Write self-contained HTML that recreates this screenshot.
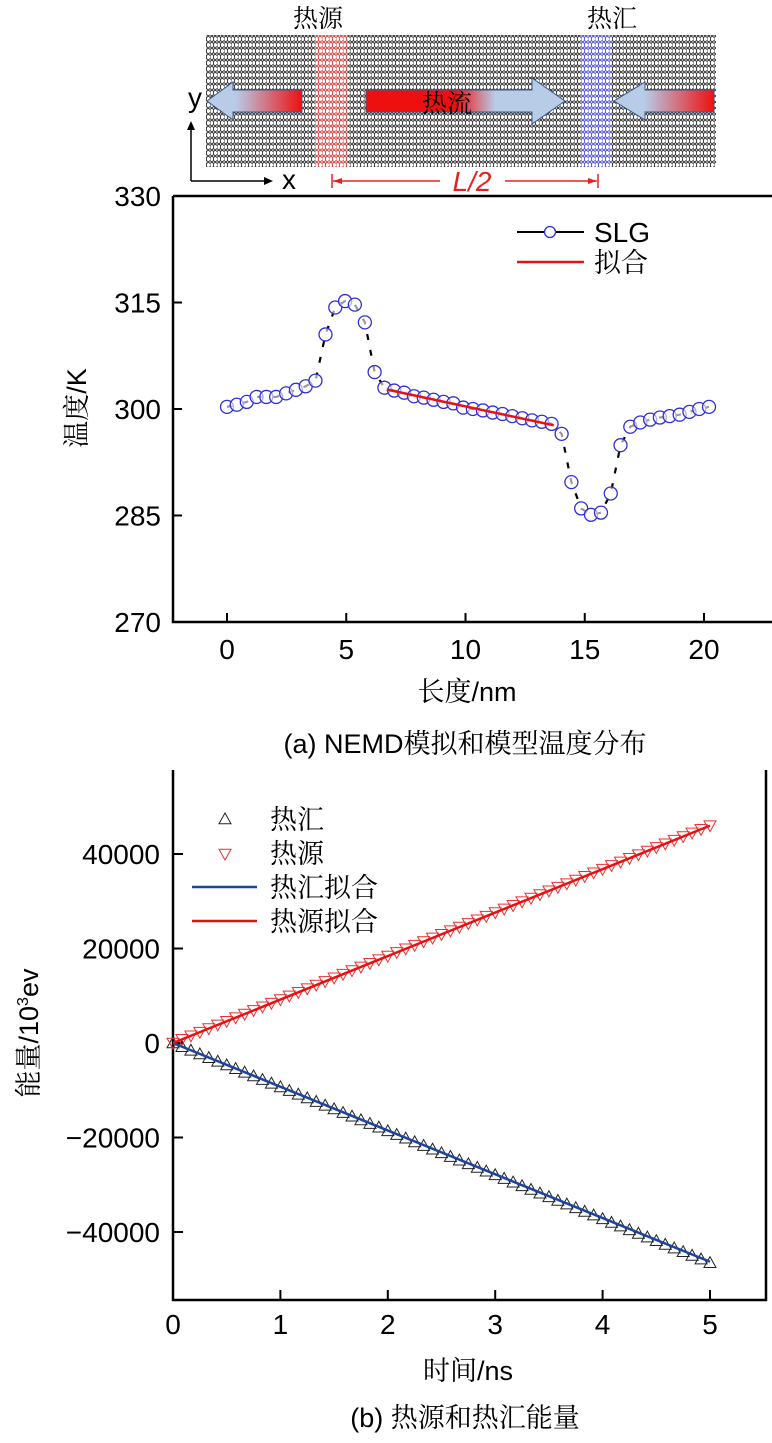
<!DOCTYPE html>
<html><head><meta charset="utf-8">
<style>
html,body{margin:0;padding:0;background:#fff;}
body{width:772px;height:1438px;overflow:hidden;position:relative;font-family:"Liberation Sans","Noto Sans CJK SC",sans-serif;}
svg text{font-family:"Liberation Sans","Noto Sans CJK SC",sans-serif;}
.cjk{font-family:"Noto Serif CJK SC","Liberation Serif",serif;}
</style></head>
<body>
<svg id="fig" width="772" height="1438" viewBox="0 0 772 1438" xmlns="http://www.w3.org/2000/svg">
<defs>
<pattern id="hex" width="7" height="6" patternUnits="userSpaceOnUse">
<path d="M0 1.5 L1.75 0 L3.5 1.5 L3.5 4.5 L1.75 6 M3.5 1.5 L5.25 0 L7 1.5 M3.5 4.5 L5.25 6 L7 4.5 M0 1.5 L0 4.5 L1.75 6" fill="none" stroke="#333" stroke-width="0.9"/>
</pattern>
<pattern id="hexr" width="7" height="6" patternUnits="userSpaceOnUse">
<path d="M0 1.5 L1.75 0 L3.5 1.5 L3.5 4.5 L1.75 6 M3.5 1.5 L5.25 0 L7 1.5 M3.5 4.5 L5.25 6 L7 4.5 M0 1.5 L0 4.5 L1.75 6" fill="none" stroke="#e04040" stroke-width="0.9"/>
</pattern>
<pattern id="hexb" width="7" height="6" patternUnits="userSpaceOnUse">
<path d="M0 1.5 L1.75 0 L3.5 1.5 L3.5 4.5 L1.75 6 M3.5 1.5 L5.25 0 L7 1.5 M3.5 4.5 L5.25 6 L7 4.5 M0 1.5 L0 4.5 L1.75 6" fill="none" stroke="#5050e0" stroke-width="0.9"/>
</pattern>
<linearGradient id="gL" x1="0" x2="1"><stop offset="0.3" stop-color="#b8cce8"/><stop offset="1" stop-color="#ee1010"/></linearGradient>
<linearGradient id="gC" x1="0" x2="1"><stop offset="0.45" stop-color="#ee1010"/><stop offset="0.65" stop-color="#b8cce8"/></linearGradient>
<linearGradient id="gR" x1="1" x2="0"><stop offset="0" stop-color="#ee1010"/><stop offset="0.7" stop-color="#b8cce8"/></linearGradient>
</defs>

<g>
<rect x="206" y="35" width="510" height="132" fill="url(#hex)"/>
<rect x="315" y="35" width="33" height="132" fill="#fff"/>
<rect x="315" y="35" width="33" height="132" fill="url(#hexr)"/>
<rect x="581" y="35" width="31" height="132" fill="#fff"/>
<rect x="581" y="35" width="31" height="132" fill="url(#hexb)"/>
<text class="cjk" x="318" y="27" font-size="25" text-anchor="middle">热源</text>
<text class="cjk" x="612" y="27" font-size="25" text-anchor="middle">热汇</text>
<path d="M302 90 L233 90 L233 82 L207 101 L233 120 L233 112 L302 112 Z" fill="url(#gL)" stroke="#3a5a8a" stroke-width="1"/>
<path d="M366 90 L532 90 L532 78 L565 101 L532 124 L532 112 L366 112 Z" fill="url(#gC)" stroke="#3a5a8a" stroke-width="1"/>
<path d="M714 90 L645 90 L645 82 L614 101 L645 120 L645 112 L714 112 Z" fill="url(#gR)" stroke="#3a5a8a" stroke-width="1"/>
<text class="cjk" x="447" y="112" font-size="25" text-anchor="middle">热流</text>
<line x1="191" y1="181" x2="191" y2="128" stroke="#000" stroke-width="1.5"/>
<path d="M187 130 L191 121 L195 130 Z"/>
<line x1="191" y1="181" x2="266" y2="181" stroke="#000" stroke-width="1.5"/>
<path d="M264 177 L273 181 L264 185 Z"/>
<text x="195" y="107" font-size="28" text-anchor="middle">y</text>
<text x="289" y="189" font-size="28" text-anchor="middle">x</text>
<g stroke="#e82020" stroke-width="1.5" fill="#e82020">
<line x1="332" y1="174" x2="332" y2="188"/><line x1="598" y1="174" x2="598" y2="188"/>
<line x1="333" y1="181" x2="440" y2="181"/><line x1="505" y1="181" x2="597" y2="181"/>
<path d="M333 181 L342 178 L342 184 Z" stroke="none"/><path d="M597 181 L588 178 L588 184 Z" stroke="none"/>
</g>
<text x="472" y="191" font-size="28" font-style="italic" fill="#e82020" text-anchor="middle">L/2</text>
</g>

<g id="chartA"></g>
<g id="chartB"></g>
</svg>

<script>
// ---------- Chart A data ----------
const posNm = [0,0.41,0.83,1.24,1.65,2.06,2.48,2.89,3.30,3.71,4.13,4.54,4.95,5.36,5.78,6.19,6.60,7.01,7.43,7.84,8.25,8.66,9.08,9.49,9.90,10.31,10.73,11.14,11.55,11.96,12.38,12.79,13.20,13.61,14.03,14.44,14.85,15.26,15.68,16.09,16.50,16.91,17.33,17.74,18.15,18.56,18.98,19.39,19.80,20.21];
const tempK = [300.3,300.6,301.0,301.7,301.7,301.7,302.2,302.7,303.2,304.0,310.5,314.3,315.2,314.7,312.2,305.2,303.0,302.6,302.3,301.8,301.6,301.3,301.0,300.8,300.2,300.0,299.8,299.5,299.3,299.0,298.7,298.4,298.2,297.9,296.5,289.7,286.0,285.1,285.4,288.1,294.9,297.5,298.1,298.5,298.8,299.0,299.2,299.6,300.0,300.3];
const fitX = [6.7,13.7];
const fitT = [302.75,297.7];
const xTicksA = [0,5,10,15,20];
const yTicksA = [270,285,300,315,330];

// ---------- Chart B data ----------
const timeNs = [];
for (let i=0;i<=60;i++) timeNs.push(+(i/12).toFixed(4));
const sourceE = [0,770,1530,2300,3070,3830,4600,5370,6130,6900,7670,8430,9200,9970,10730,11500,12270,13030,13800,14570,15330,16100,16870,17630,18400,19170,19930,20700,21470,22230,23000,23770,24530,25300,26070,26830,27600,28370,29130,29900,30670,31430,32200,32970,33730,34500,35270,36030,36800,37570,38330,39100,39870,40630,41400,42170,42930,43700,44470,45230,46000];
const sinkE = [0,-780,-1550,-2330,-3100,-3880,-4650,-5430,-6200,-6980,-7750,-8530,-9300,-10080,-10850,-11630,-12400,-13180,-13950,-14730,-15500,-16280,-17050,-17830,-18600,-19380,-20150,-20930,-21700,-22480,-23250,-24030,-24800,-25580,-26350,-27130,-27900,-28680,-29450,-30230,-31000,-31780,-32550,-33330,-34100,-34880,-35650,-36430,-37200,-37980,-38750,-39530,-40300,-41080,-41850,-42630,-43400,-44180,-44950,-45730,-46500];
const srcFitT = [0,5];
const srcFitE = [0,46000];
const sinkFitT = [0,5];
const sinkFitE = [0,-46300];
const xTicksB = [0,1,2,3,4,5];
const yTicksB = [-40000,-20000,0,20000,40000];
const yTickLabelsB = ["\u221240000","\u221220000","0","20000","40000"];

const NS='http://www.w3.org/2000/svg';
function mk(parent,tag,attrs,text){const e=document.createElementNS(NS,tag);for(const k in attrs)e.setAttribute(k,attrs[k]);if(text!==undefined)e.textContent=text;parent.appendChild(e);return e;}
const TF=28, AF=27;

(function(){
const g=document.getElementById('chartA');
const xA=v=>227+(v-0)*(704-227)/20;
const yA=v=>622-(v-270)*(622-196)/60;
let e;
e=mk(g,'path',{d:'M173 196 L173 622 L772 622 M173 196 L772 196',fill:'none',stroke:'#000','stroke-width':2.5});


xTicksA.forEach(t=>{
 e=mk(g,'line',{x1:xA(t),x2:xA(t),y1:622,y2:613,stroke:'#000','stroke-width':2});
 
 
 e=mk(g,'text',{x:xA(t),y:659,'font-size':TF,'text-anchor':'middle'},String(t));
 
 
});
yTicksA.forEach(t=>{
 e=mk(g,'line',{x1:173,x2:182,y1:yA(t),y2:yA(t),stroke:'#000','stroke-width':2});
 
 
 e=mk(g,'text',{x:161,y:yA(t)+10,'font-size':TF,'text-anchor':'end'},String(t));
 
 
});
e=mk(g,'text',{x:467,y:701,'font-size':AF,'text-anchor':'middle'});


mk(e,'tspan',{class:'cjk'},'长度');mk(e,'tspan',{},'/nm');
e=mk(g,'text',{x:0,y:0,'font-size':AF,'text-anchor':'middle',transform:'translate(86 408) rotate(-90)'});


mk(e,'tspan',{class:'cjk'},'温度');mk(e,'tspan',{},'/K');
e=mk(g,'text',{x:465,y:753,'font-size':AF,'text-anchor':'middle'});


mk(e,'tspan',{},'(a) NEMD');mk(e,'tspan',{class:'cjk'},'模拟和模型温度分布');
e=mk(g,'polyline',{points:posNm.map((x,i)=>xA(x)+','+yA(tempK[i])).join(' '),fill:'none',stroke:'#000','stroke-width':2.2,'stroke-dasharray':'6 10'});


posNm.forEach((x,i)=>{
 e=mk(g,'circle',{cx:xA(x),cy:yA(tempK[i]),r:6.5,fill:'#fff','fill-opacity':0.6,stroke:'#3030d8','stroke-width':1.3});
 
 
});
e=mk(g,'line',{x1:xA(fitX[0]),y1:yA(fitT[0]),x2:xA(fitX[1]),y2:yA(fitT[1]),stroke:'#e81010','stroke-width':2.5});


e=mk(g,'line',{x1:517,x2:584,y1:232,y2:232,stroke:'#000','stroke-width':2});


e=mk(g,'circle',{cx:550,cy:232,r:5.5,fill:'#fff',stroke:'#3030d8','stroke-width':1.3});


e=mk(g,'text',{x:594,y:242,'font-size':TF},'SLG');


e=mk(g,'line',{x1:517,x2:584,y1:262,y2:262,stroke:'#e81010','stroke-width':2.5});


e=mk(g,'text',{x:594,y:272,'font-size':AF,class:'cjk'},'拟合');


})();

(function(){
const g=document.getElementById('chartB');
const xB=v=>173+v*(710-173)/5;
const yB=v=>1043-v*(94.5/20000);
let e;
e=mk(g,'path',{d:'M173 770 L173 1300 L766 1300 L766 770',fill:'none',stroke:'#000','stroke-width':2.5});


xTicksB.forEach(t=>{
 if(t>0){
 e=mk(g,'line',{x1:xB(t),x2:xB(t),y1:1300,y2:1290,stroke:'#000','stroke-width':2});
 
 
 }
 e=mk(g,'text',{x:xB(t),y:1334,'font-size':TF,'text-anchor':'middle'},String(t));
 
 
});
yTicksB.forEach((t,i)=>{
 e=mk(g,'line',{x1:173,x2:183,y1:yB(t),y2:yB(t),stroke:'#000','stroke-width':2});
 
 
 e=mk(g,'text',{x:160,y:yB(t)+10,'font-size':TF,'text-anchor':'end'},yTickLabelsB[i]);
 
 
});
e=mk(g,'text',{x:468,y:1380,'font-size':AF,'text-anchor':'middle'});


mk(e,'tspan',{class:'cjk'},'时间');mk(e,'tspan',{},'/ns');
e=mk(g,'text',{x:0,y:0,'font-size':AF,'text-anchor':'middle',transform:'translate(38 1033) rotate(-90)'});


mk(e,'tspan',{class:'cjk'},'能量');mk(e,'tspan',{},'/10');mk(e,'tspan',{'font-size':16,dy:-10},'3');mk(e,'tspan',{dy:10},'ev');
e=mk(g,'text',{x:465,y:1427,'font-size':AF,'text-anchor':'middle'});


mk(e,'tspan',{},'(b) ');mk(e,'tspan',{class:'cjk'},'热源和热汇能量');
const up=(x,y,s)=>`M${x} ${y-s} L${x+s} ${y+s*0.8} L${x-s} ${y+s*0.8} Z`;
const dn=(x,y,s)=>`M${x} ${y+s} L${x+s} ${y-s*0.8} L${x-s} ${y-s*0.8} Z`;
timeNs.forEach((t,i)=>{
 e=mk(g,'path',{d:up(xB(t),yB(sinkE[i]),6),fill:'none',stroke:'#222','stroke-width':1});
 
 
 e=mk(g,'path',{d:dn(xB(t),yB(sourceE[i]),6),fill:'none',stroke:'#e83030','stroke-width':1});
 
 
});
e=mk(g,'line',{x1:xB(sinkFitT[0]),y1:yB(sinkFitE[0]),x2:xB(sinkFitT[1]),y2:yB(sinkFitE[1]),stroke:'#1c44a0','stroke-width':2.5});


e=mk(g,'line',{x1:xB(srcFitT[0]),y1:yB(srcFitE[0]),x2:xB(srcFitT[1]),y2:yB(srcFitE[1]),stroke:'#e81010','stroke-width':2.5});


e=mk(g,'path',{d:up(225,819,6),fill:'none',stroke:'#222','stroke-width':1});


e=mk(g,'text',{x:270,y:829,'font-size':AF,class:'cjk'},'热汇');


e=mk(g,'path',{d:dn(225,854,6),fill:'none',stroke:'#e83030','stroke-width':1});


e=mk(g,'text',{x:270,y:863,'font-size':AF,class:'cjk'},'热源');


e=mk(g,'line',{x1:192,x2:257,y1:887,y2:887,stroke:'#1c44a0','stroke-width':2.5});


e=mk(g,'text',{x:270,y:897,'font-size':AF,class:'cjk'},'热汇拟合');


e=mk(g,'line',{x1:192,x2:257,y1:921,y2:921,stroke:'#e81010','stroke-width':2.5});


e=mk(g,'text',{x:270,y:931,'font-size':AF,class:'cjk'},'热源拟合');


})();
</script>
</body></html>
